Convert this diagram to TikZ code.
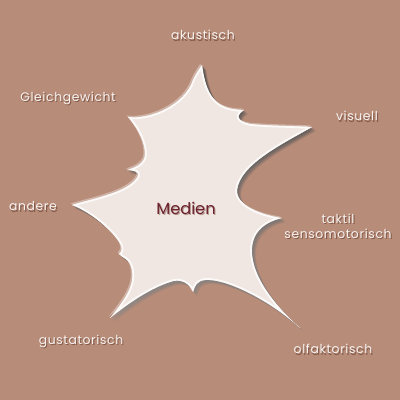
\documentclass[tikz,border=0pt]{standalone}
\usepackage{fontspec}
\setmainfont{Poppins}
\newfontfamily\sensefont{Poppins}[LetterSpace=5]
\definecolor{bg}{RGB}{183,141,122}
\definecolor{blobfill}{RGB}{240,231,226}
\definecolor{shade}{RGB}{112,72,58}
\definecolor{textshade}{RGB}{132,90,74}
\definecolor{wine}{RGB}{108,34,48}
\definecolor{chalk}{RGB}{248,242,240}
\newcommand{\soft}[2]{\makebox[0pt][l]{\hspace{0.8pt}\raisebox{-1pt}{\textcolor{#2}{#1}}}#1}
\newcommand{\mediashape}{(202,65) .. controls (206,95) and (215,110) .. (244,110)
  .. controls (236,115) and (236,121) .. (250,124) .. controls (270,126) and (295,126) .. (312,127)
  .. controls (280,145) and (240,165) .. (237,190) .. controls (236,205) and (260,215) .. (282,218)
  .. controls (265,222) and (250,232) .. (252,255) .. controls (255,285) and (285,315) .. (300,328)
  .. controls (270,300) and (225,278) .. (205,280) .. controls (197,281) and (195,285) .. (193,292)
  .. controls (190,283) and (180,278) .. (170,282) .. controls (145,290) and (120,310) .. (110,318)
  .. controls (125,300) and (135,285) .. (132,270) .. controls (130,258) and (122,258) .. (119,254)
  .. controls (125,249) and (120,242) .. (113,234) .. controls (100,220) and (85,210) .. (72,205)
  .. controls (95,198) and (130,192) .. (138,176) .. controls (140,172) and (133,170) .. (127,170)
  .. controls (138,167) and (146,162) .. (145,152) .. controls (144,138) and (135,125) .. (128,117)
  .. controls (150,120) and (185,105) .. (193,80) .. controls (197,72) and (200,68) .. (202,65) -- cycle}

\begin{document}
\begin{tikzpicture}[x=0.025cm,y=-0.025cm,
    sense/.style={text=chalk,font=\sensefont\fontsize{8.8}{10.5}\selectfont,align=center,inner sep=0pt}]
  \fill[bg] (0,0) rectangle (400,400);
  \useasboundingbox (0,0) rectangle (400,400);
  % soft shadow and halo round the shape
  \foreach \d/\o in {4/0.12,3/0.18,2/0.25,1/0.3}
    \fill[shade,opacity=\o,shift={(\d,\d)}] \mediashape;
  \fill[white,opacity=0.35,shift={(-1.5,-1.5)}] \mediashape;
  \fill[blobfill] \mediashape;
  \begin{scope}
    \clip \mediashape;
    \draw[white,line width=2.5pt,opacity=0.8] \mediashape;
  \end{scope}
  \node[font=\fontsize{11.5}{13}\selectfont,text=wine,inner sep=0pt] (medien) at (186,209) {\soft{Medien}{textshade!55!blobfill}};
  \node[sense] (akustisch) at (203,36) {\soft{akustisch}{textshade}};
  \node[sense] (gleichgewicht) at (68,99) {\soft{Gleichgewicht}{textshade}};
  \node[sense] (visuell) at (357,117) {\soft{visuell}{textshade}};
  \node[sense] (andere) at (33,207) {\soft{andere}{textshade}};
  \node[sense] (taktil) at (338,227) {\soft{taktil}{textshade}\\\soft{sensomotorisch}{textshade}};
  \node[sense] (gustatorisch) at (81,342) {\soft{gustatorisch}{textshade}};
  \node[sense] (olfaktorisch) at (333,350) {\soft{olfaktorisch}{textshade}};
\end{tikzpicture}
\end{document}
